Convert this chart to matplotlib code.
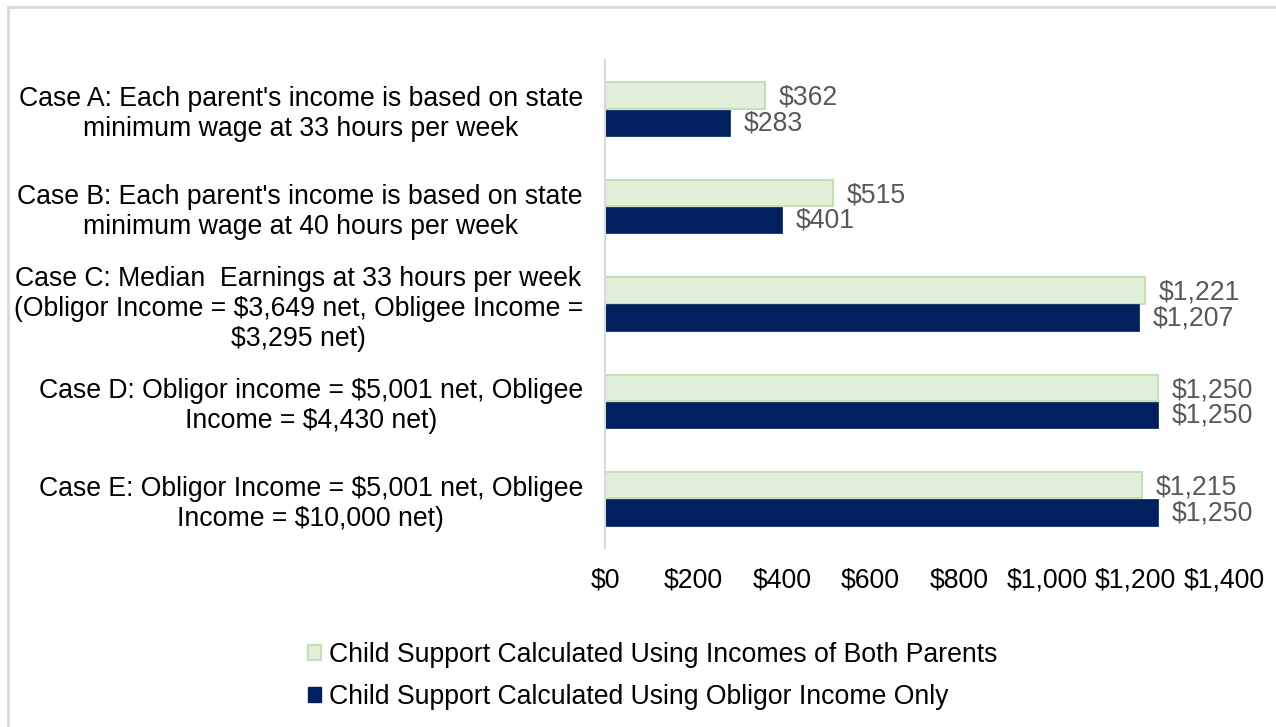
import matplotlib
matplotlib.use("Agg")
import matplotlib.pyplot as plt
from matplotlib.patches import Rectangle, Patch

plt.rcParams['font.family'] = ['Liberation Sans', 'DejaVu Sans']

categories = [
    "Case A: Each parent's income is based on state\nminimum wage at 33 hours per week",
    "Case B: Each parent's income is based on state\nminimum wage at 40 hours per week",
    "Case C: Median  Earnings at 33 hours per week\n(Obligor Income = $3,649 net, Obligee Income =\n$3,295 net)",
    "Case D: Obligor income = $5,001 net, Obligee\nIncome = $4,430 net)",
    "Case E: Obligor Income = $5,001 net, Obligee\nIncome = $10,000 net)",
]
both_parents = [362, 515, 1221, 1250, 1215]
obligor_only = [283, 401, 1207, 1250, 1250]
series_names = [
    "Child Support Calculated Using Incomes of Both Parents",
    "Child Support Calculated Using Obligor Income Only",
]
x_ticks = [0, 200, 400, 600, 800, 1000, 1200, 1400]

W, H = 1276, 727
fig = plt.figure(figsize=(W / 100, H / 100), dpi=100)
ax = fig.add_axes([605 / W, 1 - 547.6 / H, (1224 - 605) / W, (547.6 - 60.4) / H])

light_face = '#E2EFDA'
light_edge = '#C5E0B4'
navy = '#002060'
fs = 19.2

bh = 0.27
pos = list(range(len(categories)))
ax.barh([p - bh / 2 - 0.005 for p in pos], both_parents, height=bh,
        color=light_face, edgecolor=light_edge, linewidth=1.5)
ax.barh([p + bh / 2 + 0.005 for p in pos], obligor_only, height=bh,
        color=navy, edgecolor=navy, linewidth=0.5)

for p, v in zip(pos, both_parents):
    ax.annotate(f"${v:,}", (v, p - bh / 2 + 0.02), xytext=(10, 0),
                textcoords='offset points', va='center', ha='left',
                fontsize=fs, color='#595959')
for p, v in zip(pos, obligor_only):
    ax.annotate(f"${v:,}", (v, p + bh / 2 + 0.01), xytext=(10, 0),
                textcoords='offset points', va='center', ha='left',
                fontsize=fs, color='#595959')

ax.set_xlim(0, 1400)
ax.set_ylim(len(categories) - 0.5, -0.5)
ax.set_xticks(x_ticks)
ax.set_xticklabels([f"${t:,}" for t in x_ticks], fontsize=fs, color='black')
ax.set_yticks(pos)
ax.set_yticklabels(categories, fontsize=fs, color='black',
                   multialignment='center', linespacing=1.2)
ax.tick_params(axis='both', length=0)
ax.tick_params(axis='y', pad=16)
ax.tick_params(axis='x', pad=14)
for side in ['top', 'right', 'bottom']:
    ax.spines[side].set_visible(False)
ax.spines['left'].set_color('#D9D9D9')
ax.spines['left'].set_linewidth(1.5)

handles = [
    Patch(facecolor=light_face, edgecolor=light_edge, linewidth=1.5),
    Patch(facecolor=navy, edgecolor=navy),
]
fig.legend(handles, series_names, loc='upper left',
           bbox_to_anchor=(297 / W, 1 - 631 / H), frameon=False,
           fontsize=fs, handlelength=0.5, handleheight=0.5,
           handletextpad=0.3, labelspacing=0.6, borderaxespad=0)

fig.add_artist(Rectangle((8 / W, -0.1), 2.0, 1.1 - 7 / H,
                         transform=fig.transFigure, fill=False,
                         edgecolor='#D9D9D9', linewidth=2))

fig.savefig('out.png', dpi=100, facecolor='white')
